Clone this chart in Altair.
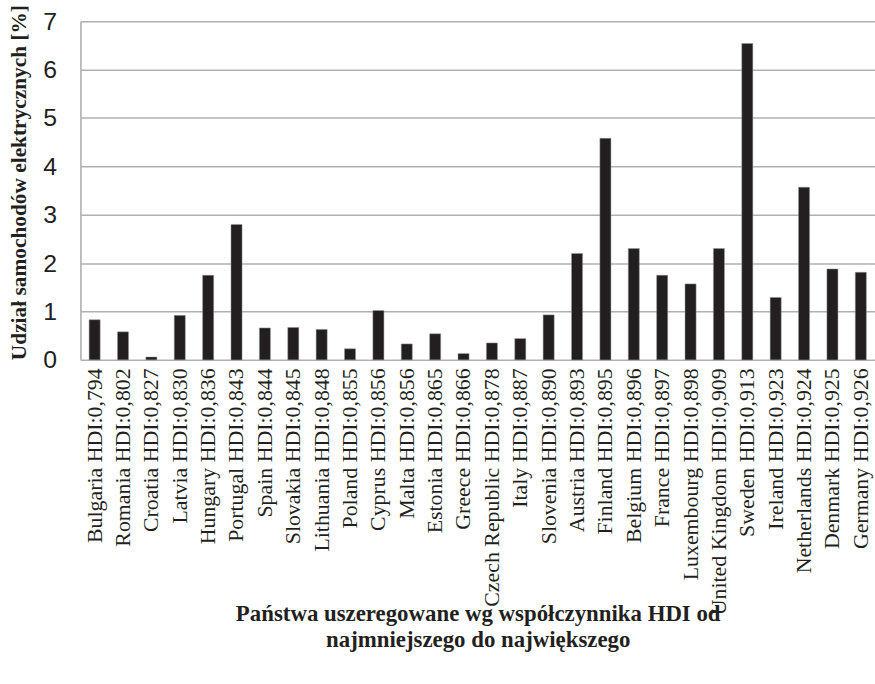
import altair as alt
import pandas as pd

countries = ["Bulgaria HDI:0,794", "Romania HDI:0,802", "Croatia HDI:0,827", "Latvia HDI:0,830",
             "Hungary HDI:0,836", "Portugal HDI:0,843", "Spain HDI:0,844", "Slovakia HDI:0,845",
             "Lithuania HDI:0,848", "Poland HDI:0,855", "Cyprus HDI:0,856", "Malta HDI:0,856",
             "Estonia HDI:0,865", "Greece HDI:0,866", "Czech Republic HDI:0,878", "Italy HDI:0,887",
             "Slovenia HDI:0,890", "Austria HDI:0,893", "Finland HDI:0,895", "Belgium HDI:0,896",
             "France HDI:0,897", "Luxembourg HDI:0,898", "United Kingdom HDI:0,909", "Sweden HDI:0,913",
             "Ireland HDI:0,923", "Netherlands HDI:0,924", "Denmark HDI:0,925", "Germany HDI:0,926"]
values = [0.83, 0.58, 0.06, 0.92, 1.75, 2.80, 0.66, 0.67, 0.63, 0.23, 1.02, 0.33,
          0.54, 0.13, 0.35, 0.44, 0.93, 2.20, 4.58, 2.30, 1.75, 1.57, 2.30, 6.54,
          1.29, 3.57, 1.88, 1.81]

df = pd.DataFrame({"country": countries, "value": values})

chart = alt.Chart(df).mark_bar(color="#231f20", stroke="#9a9a9a", strokeWidth=0.5).encode(
    x=alt.X("country:N", sort=None,
            scale=alt.Scale(paddingInner=0.61, paddingOuter=0.305),
            axis=alt.Axis(title=["Państwa uszeregowane wg współczynnika HDI od",
                                 "najmniejszego do największego"],
                          labelAngle=-90, labelFont="Liberation Serif", labelFontSize=22,
                          labelColor="#231f20", labelPadding=8, labelLimit=400,
                          ticks=False, domainColor="#b0b0b0", domainWidth=1.5,
                          titleFont="Liberation Serif", titleFontSize=23, titleFontWeight="bold",
                          titleColor="#231f20", titleY=244, titleBaseline="top",
                          titleLineHeight=27)),
    y=alt.Y("value:Q",
            scale=alt.Scale(domain=[0, 7], nice=False),
            axis=alt.Axis(title="Udział samochodów elektrycznych [%]", values=[0, 1, 2, 3, 4, 5, 6, 7],
                          format="d", labelFont="Liberation Sans", labelFontSize=25,
                          labelColor="#231f20", labelPadding=24, ticks=False,
                          domainColor="#b0b0b0", domainWidth=1.5,
                          gridColor="#b0b0b0", gridWidth=1.5,
                          titleFont="Liberation Serif", titleFontSize=21.5, titleFontWeight="bold",
                          titleColor="#231f20", titlePadding=12, titleY=162)),
).properties(
    width=800, height=341,
    autosize=alt.AutoSizeParams(type="none"),
    padding={"left": 81, "top": 19, "right": 0, "bottom": 324},
).configure_view(stroke=None).configure(background="white")

chart.save("out.html", embed_options={"renderer": "svg", "actions": False})
